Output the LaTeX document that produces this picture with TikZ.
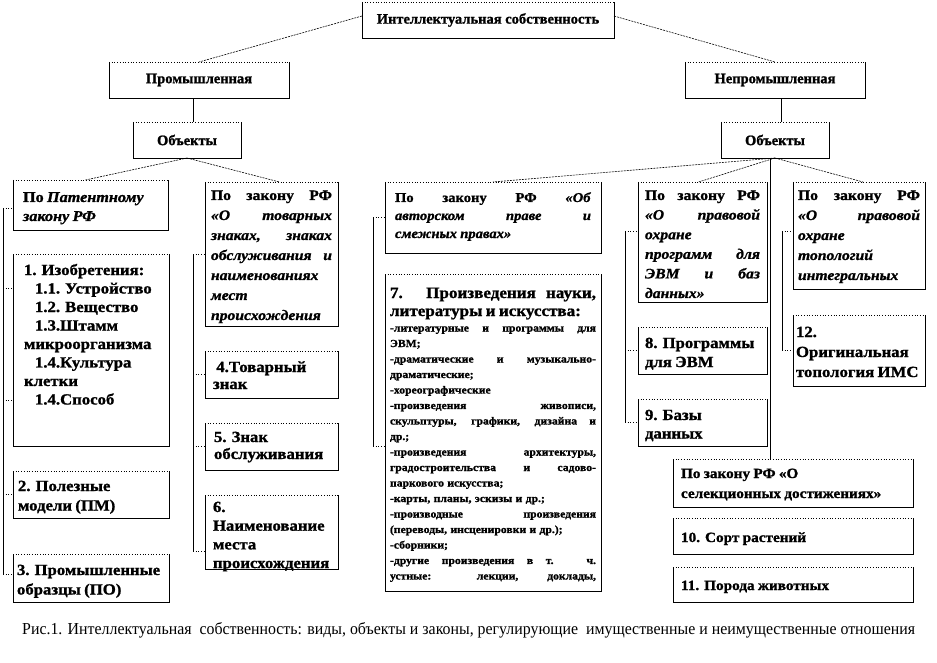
\documentclass[tikz,border=0pt]{standalone}
\usepackage{fontspec}
\setmainfont{Liberation Serif}[BoldFeatures={FakeBold=1.2}]
\newfontfamily\wf[FakeStretch=1.08, BoldFeatures={FakeBold=1.2}, BoldItalicFeatures={FakeBold=1.2}]{Liberation Serif}
\newfontfamily\capfont{Liberation Serif}
\usepackage{graphicx}
\usetikzlibrary{calc}
\newcommand\jl[1]{{\spaceskip=0pt\xspaceskip=0pt\makebox[\hsize][s]{#1}}}
\newcommand\topstrut{\rule{0pt}{13.65pt}}
\tikzset{
  frame/.style={draw=none, inner sep=0pt, outer sep=0pt},
  side/.style={line width=0.8pt},
  topline/.style={line width=0.7pt, dotted},
  txt/.style={inner sep=0pt, outer sep=0pt, align=left, font=\wf\bfseries},
  ctxt/.style={inner sep=0pt, outer sep=0pt, align=center, font=\fontsize{14.5}{19}\selectfont\bfseries},
  conn/.style={line width=0.6pt, dash pattern=on 2pt off 1pt},
  brk/.style={line width=0.8pt},
  tick/.style={line width=0.7pt, dotted},
}
% name, x, y, w, h, pad, first-baseline offset, {size}{skip}, content
\newcommand\bx[9]{%
  \node[frame, anchor=north west, minimum width=#4pt, minimum height=#5pt] (#1) at (#2,#3) {};
  \draw[side] (#1.north west) -- (#1.south west) -- (#1.south east) -- (#1.north east);
  \draw[topline] (#1.north west) -- (#1.north east);
  \pgfmathsetmacro\tw{#4-2*#6}%
  \pgfmathsetmacro\ys{#7-13.65}%
  \node[txt, anchor=north west, text width=\tw pt] at ([xshift=#6pt, yshift=-\ys pt]#1.north west) {\fontsize#8\selectfont\setlength\parindent{0pt}\topstrut #9\par};
}
\newcommand\cbx[6]{%
  \node[frame, anchor=north west, minimum width=#4pt, minimum height=#5pt] (#1) at (#2,#3) {};
  \draw[side] (#1.north west) -- (#1.south west) -- (#1.south east) -- (#1.north east);
  \draw[topline] (#1.north west) -- (#1.north east);
  \node[ctxt] at (#1.center) {#6};
}
\begin{document}
\begin{tikzpicture}[x=1pt, y=-1pt]
\fill[white] (0,0) rectangle (937,663);
\useasboundingbox (0,0) rectangle (937,663);

% top levels
\cbx{title}{362}{2}{252}{36}{Интеллектуальная собственность}
\cbx{promL}{109}{62}{180}{36}{Промышленная}
\cbx{promR}{685}{62}{180}{36}{Непромышленная}
\cbx{objL}{133}{122}{108}{36}{Объекты}
\cbx{objR}{721}{122}{108}{36}{Объекты}

% left column
\bx{pat}{13}{180}{155}{50}{10}{22}{{15}{19}}{По \textit{Патентному}\\ \textit{закону РФ}}
\bx{inv}{13}{254}{156}{192}{11}{21}{{15.5}{18.5}}{1. Изобретения:\\ \hspace*{11pt}1.1. Устройство\\ \hspace*{11pt}1.2. Вещество\\ \hspace*{11pt}1.3.Штамм\\ микроорганизма\\ \hspace*{11pt}1.4.Культура\\ клетки\\ \hspace*{11pt}1.4.Способ}
\bx{pm}{13}{471}{156}{47}{5}{20}{{15.5}{19.5}}{2. Полезные\\ модели (ПМ)}
\bx{po}{13}{554}{156}{48}{4}{21}{{15.5}{19.5}}{3. Промышленные\\ образцы (ПО)}

% trademark column
\bx{tm}{205}{182}{133}{144}{6}{18}{{14.5}{20}}{\jl{По закону РФ}\\ \jl{\textit{«О товарных}}\\ \jl{\textit{знаках, знаках}}\\ \jl{\textit{обслуживания и}}\\ \textit{наименованиях}\\ \textit{мест}\\ \textit{происхождения}}
\bx{b4}{205}{351}{133}{47}{8}{21}{{15.5}{17}}{\ 4.Товарный\\ знак}
\bx{b5}{205}{423}{133}{47}{9}{19}{{15.5}{17}}{5. Знак\\ обслуживания}
\bx{b6}{205}{495}{133}{74}{8}{17}{{15.5}{18.7}}{6.\\ Наименование\\ места\\ происхождения}

% copyright column
\bx{auth}{385}{182}{216}{71}{10}{20}{{13.5}{18}}{\jl{По закону РФ \textit{«Об}}\\ \jl{\textit{авторском праве и}}\\ \textit{смежных правах»}}
\bx{b7}{385}{274}{216}{317}{5}{24}{{15.8}{18}}{\jl{7. Произведения науки,}\\ литературы и искусства:\par
\fontsize{10.8}{15.5}\selectfont
\jl{-литературные и программы для}\\ ЭВМ;\\
\jl{-драматические и музыкально-}\\ драматические;\\
-хореографические\\
\jl{-произведения живописи,}\\
\jl{скульптуры, графики, дизайна и}\\
др.;\\
\jl{-произведения архитектуры,}\\
\jl{градостроительства и садово-}\\
паркового искусства;\\
-карты, планы, эскизы и др.;\\
\jl{-производные произведения}\\
(переводы, инсценировки и др.);\\
-сборники;\\
\jl{-другие произведения в т. ч.}\\
\jl{устные: лекции, доклады,}}

% programs column
\bx{prog}{638}{182}{129}{120}{7}{18}{{14.5}{19.6}}{\jl{По закону РФ}\\ \jl{\textit{«О правовой}}\\ \textit{охране}\\ \jl{\textit{программ для}}\\ \jl{\textit{ЭВМ и баз}}\\ \textit{данных»}}
\bx{b8}{638}{327}{129}{47}{7}{21}{{15.5}{19}}{8. Программы\\ для ЭВМ}
\bx{b9}{638}{399}{129}{47}{7}{21}{{15.5}{18.5}}{9. Базы\\ данных}

% topology column
\bx{topo}{793}{182}{132}{107}{5}{18}{{14.5}{20}}{\jl{По закону РФ}\\ \jl{\textit{«О правовой}}\\ \textit{охране}\\ \textit{топологий}\\ \textit{интегральных}}
\bx{b12}{793}{315}{132}{71}{3}{22}{{15.5}{20}}{12.\\ Оригинальная\\ топология ИМС}

% selection
\bx{sel}{673}{459}{240}{48}{8}{19}{{14.1}{20}}{По закону РФ «О\\ селекционных достижениях»}
\bx{b10}{673}{518}{240}{36}{8}{24}{{14.1}{19}}{10. Сорт растений}
\bx{b11}{673}{567}{240}{35}{8}{23}{{14.1}{19}}{11. Порода животных}

% connectors between levels
\draw[conn] ([yshift=4pt]title.west) -- (promL.north);
\draw[conn] ([yshift=4pt]title.east) -- (promR.north);
\coordinate (mL) at ($(objL.north)!0.5!(promL.south)$);
\draw[side] (objL.north -| mL) -- (promL.south -| mL);
\draw[side] ([xshift=6pt]objR.north) -- ([xshift=6pt]objR.north |- promR.south);
\draw[conn] (objL.south) -- ([xshift=-5pt]pat.north);
\draw[conn] (objL.south) -- ([xshift=8pt]tm.north);
\draw[conn] (objR.south) -- (auth.north);
\draw[conn] (objR.south) -- ([xshift=-4pt]prog.north);
\draw[conn] (objR.south) -- ([xshift=4pt]topo.north);
\draw[side] ([xshift=-5pt]objR.south) -- ([xshift=-5pt]objR.south |- sel.north);

% left bracket
\coordinate (bL) at (3,0);
\coordinate (i1) at ([yshift=-34pt]inv.north west);
\coordinate (i2) at ([yshift=-146pt]inv.north west);
\draw[brk] ([yshift=-3pt]pat.west -| bL) -- ([yshift=4pt]po.west -| bL);
\draw[tick] ([yshift=-3pt]pat.west -| bL) -- ([yshift=-3pt]pat.west);
\draw[tick] (i1 -| bL) -- (i1);
\draw[tick] (i2 -| bL) -- (i2);
\draw[tick] (pm.west -| bL) -- (pm.west);
\draw[tick] ([yshift=4pt]po.west -| bL) -- ([yshift=4pt]po.west);

% trademark bracket
\coordinate (bT) at (193,0);
\coordinate (t6) at ([yshift=-56pt]b6.north west);
\draw[brk] (tm.west -| bT) -- (t6 -| bT);
\draw[tick] (tm.west -| bT) -- (tm.west);
\draw[tick] (b4.west -| bT) -- (b4.west);
\draw[tick] (b5.west -| bT) -- (b5.west);
\draw[tick] (t6 -| bT) -- (t6);

% copyright bracket
\coordinate (bA) at (373,0);
\coordinate (a7) at ([yshift=-172pt]b7.north west);
\draw[brk] (auth.west -| bA) -- (a7 -| bA);
\draw[tick] (auth.west -| bA) -- (auth.west);
\draw[tick] (a7 -| bA) -- (a7);

% programs bracket
\coordinate (bP) at (625,0);
\coordinate (p0) at ([yshift=-49pt]prog.north west);
\draw[brk] (p0 -| bP) -- (b9.west -| bP);
\draw[tick] (p0 -| bP) -- (p0);
\draw[tick] (b8.west -| bP) -- (b8.west);
\draw[tick] (b9.west -| bP) -- (b9.west);

% topology bracket
\coordinate (bO) at (782,0);
\coordinate (o0) at ([yshift=-49pt]topo.north west);
\draw[brk] (o0 -| bO) -- (b12.west -| bO);
\draw[tick] (o0 -| bO) -- (o0);
\draw[tick] (b12.west -| bO) -- (b12.west);

% caption
\node[anchor=base west, inner sep=0pt] (cap) at (22,634) {\capfont\resizebox{893pt}{12pt}{Рис.1. Интеллектуальная\ \ собственность: виды, объекты и законы, регулирующие\ \ имущественные и неимущественные отношения}};
\end{tikzpicture}
\end{document}
